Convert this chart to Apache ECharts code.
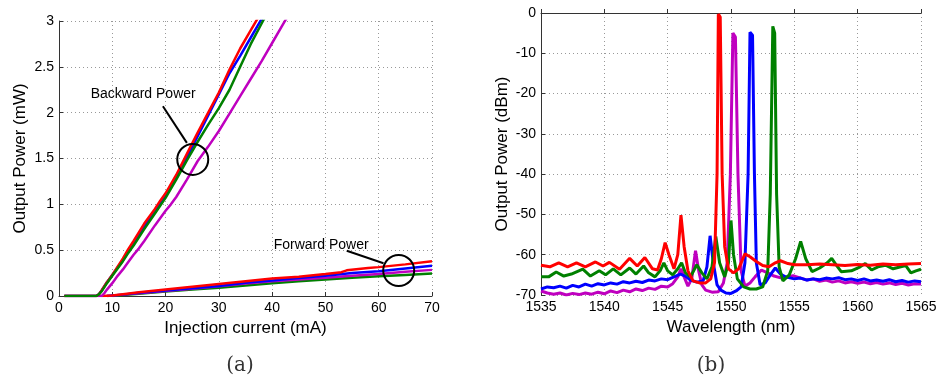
<!DOCTYPE html>
<html>
<head>
<meta charset="utf-8">
<title>Output power vs current and spectra</title>
<script src="https://cdn.jsdelivr.net/npm/echarts@6/dist/echarts.min.js"></script>
<style>
html, body { margin: 0; padding: 0; background: #fff; }
#chart { width: 940px; height: 381px; }
</style>
</head>
<body>
<div id="chart"></div>
<script>
// (a) backward power, [injection current mA, power mW]
var backRed = [[1,0],[7,0],[7.5,0.02],[8,0.06],[9,0.15],[10,0.23],[11,0.32],[12,0.41],[13,0.51],[14,0.6],[16,0.79],[18,0.95],[19,1.04],[20,1.12],[22,1.32],[24,1.55],[26,1.78],[28,2.0],[30,2.22],[32,2.47],[34,2.7],[36,2.9],[38,3.1]];
var backBlue = [[1,0],[7,0],[7.5,0.02],[8,0.06],[9,0.15],[10,0.23],[11,0.31],[12,0.39],[13,0.48],[14,0.57],[16,0.76],[18,0.93],[20,1.1],[22,1.3],[24,1.51],[26,1.74],[28,1.97],[30,2.2],[32,2.43],[34,2.62],[36,2.82],[38,3.02],[39,3.12]];
var backGreen = [[1,0],[7,0],[7.5,0.02],[8,0.05],[9,0.14],[10,0.22],[11,0.3],[12,0.38],[13,0.47],[14,0.55],[16,0.73],[18,0.9],[20,1.07],[22,1.27],[24,1.48],[26,1.68],[28,1.87],[30,2.05],[32,2.25],[34,2.5],[36,2.75],[38,2.97],[39,3.08]];
var backMagenta = [[1,0],[8,0],[8.5,0.03],[9,0.07],[10,0.14],[11,0.22],[12,0.29],[13,0.37],[14,0.45],[15,0.52],[16,0.6],[18,0.77],[20,0.93],[21,1.0],[22,1.08],[24,1.27],[26,1.47],[28,1.63],[30,1.8],[32,1.99],[34,2.18],[36,2.37],[38,2.56],[40,2.76],[42,2.96],[43,3.06]];

// (a) forward power
var fwdRed = [[8,0],[10,0.005],[12,0.02],[15,0.04],[20,0.07],[25,0.1],[30,0.13],[35,0.16],[40,0.19],[45,0.21],[50,0.24],[53,0.26],[54,0.28],[58,0.305],[60,0.315],[65,0.345],[70,0.38]];
var fwdBlue = [[9,0],[12,0.015],[15,0.035],[20,0.06],[25,0.085],[30,0.11],[35,0.145],[40,0.17],[45,0.195],[50,0.22],[55,0.25],[60,0.27],[65,0.3],[70,0.33]];
var fwdMagenta = [[9,0],[12,0.015],[15,0.03],[20,0.055],[25,0.08],[30,0.105],[35,0.135],[40,0.16],[45,0.18],[50,0.2],[55,0.22],[60,0.24],[65,0.265],[70,0.285]];
var fwdGreen = [[10,0],[12,0.01],[15,0.025],[20,0.05],[25,0.07],[30,0.09],[35,0.115],[40,0.14],[45,0.16],[50,0.18],[55,0.2],[60,0.215],[65,0.23],[70,0.245]];

// (b) spectra, [wavelength nm, power dBm]
var specRed = [[1535,-62.6],[1535.7,-63],[1536.4,-62],[1537.1,-63],[1537.8,-62],[1538.5,-63],[1539.3,-61.8],[1539.9,-62.8],[1540.4,-61.9],[1541.2,-63.6],[1542,-60.9],[1542.6,-62.8],[1543.2,-60.7],[1543.8,-63.5],[1544.2,-63.8],[1544.5,-61],[1544.8,-57],[1545.1,-60],[1545.5,-63.5],[1545.8,-60],[1546.05,-50.2],[1546.3,-58],[1546.6,-64],[1547,-66.5],[1547.5,-67],[1548,-67],[1548.4,-66],[1548.7,-62],[1548.9,-40],[1549.0,-0.3],[1549.15,-1],[1549.3,-40],[1549.5,-58],[1549.8,-63.5],[1550.2,-64.5],[1550.6,-63.5],[1551.1,-59.8],[1551.5,-60.5],[1552,-61.7],[1552.5,-62.7],[1553,-63],[1553.5,-62],[1553.9,-61.5],[1554.5,-62.2],[1555,-62.5],[1556,-62.5],[1557,-62.3],[1558,-62.5],[1559,-62.7],[1560,-62.4],[1561,-62.6],[1562,-62.3],[1563,-62.5],[1564,-62.3],[1565,-62.2]];
var specGreen = [[1535,-65.5],[1535.6,-65.5],[1536.2,-64.3],[1536.8,-65.3],[1537.4,-64.8],[1538.3,-63.6],[1538.9,-65.3],[1539.6,-64],[1540.1,-65],[1540.7,-63.5],[1541.3,-65],[1542,-63.3],[1542.5,-64.8],[1543.1,-62.8],[1543.5,-64.5],[1544,-65.5],[1544.4,-64],[1544.7,-62],[1545,-64],[1545.4,-65],[1545.8,-63.5],[1546.1,-62],[1546.4,-64.5],[1546.8,-65.5],[1547.3,-62.5],[1547.7,-64.5],[1548.1,-66],[1548.5,-63],[1548.8,-55.5],[1549.1,-62],[1549.5,-65.5],[1549.8,-62],[1550.0,-51.5],[1550.2,-60],[1550.5,-66],[1551,-68],[1551.5,-68.5],[1552,-68.5],[1552.5,-68],[1552.9,-64],[1553.1,-45],[1553.3,-3.3],[1553.45,-5],[1553.6,-45],[1553.8,-63],[1554.1,-66.5],[1554.6,-65],[1555.1,-61],[1555.5,-56.7],[1555.9,-61],[1556.4,-64.2],[1557,-63.3],[1557.6,-62],[1557.95,-60.9],[1558.3,-62.5],[1558.7,-64.2],[1559.5,-64],[1560.2,-63],[1560.6,-62.2],[1561.1,-63.8],[1561.6,-63],[1562.2,-62.6],[1562.8,-63.5],[1563.4,-63],[1563.8,-62.7],[1564.2,-64.5],[1564.6,-64],[1565,-63.6]];
var specBlue = [[1535,-68.5],[1535.5,-68],[1536,-68.2],[1536.5,-67.8],[1537,-68.3],[1537.5,-67.6],[1538,-68],[1538.5,-67.3],[1539,-67.8],[1539.5,-67.2],[1540,-67.5],[1540.5,-67],[1541,-67.3],[1541.5,-66.7],[1542,-67],[1542.5,-66.6],[1543,-66.9],[1543.5,-66.3],[1544,-66.5],[1544.5,-66],[1545,-66.2],[1545.5,-65.5],[1546,-64.8],[1546.4,-65.3],[1546.8,-66.3],[1547.3,-66.8],[1547.8,-66.5],[1548.1,-63],[1548.35,-55.3],[1548.6,-62],[1548.9,-67.5],[1549.2,-68.8],[1549.6,-69.5],[1550,-69.6],[1550.4,-69],[1550.8,-68],[1551.1,-62],[1551.35,-40],[1551.5,-4.8],[1551.7,-5.5],[1551.85,-40],[1552,-62],[1552.3,-67.5],[1552.7,-67],[1553.1,-65],[1553.5,-63.3],[1553.9,-64.8],[1554.3,-65.5],[1555,-66],[1555.5,-65.8],[1556,-66.3],[1556.5,-66],[1557,-66.2],[1557.5,-65.8],[1558,-66],[1558.5,-65.7],[1559,-66.2],[1559.5,-66],[1560,-66.4],[1560.5,-66],[1561,-66.5],[1561.5,-66.3],[1562,-66.6],[1562.5,-66.2],[1563,-66.7],[1563.5,-66.4],[1564,-66.8],[1564.5,-66.5],[1565,-66.7]];
var specMagenta = [[1535,-69],[1535.5,-69.5],[1536,-69.8],[1536.5,-69.5],[1537,-70],[1537.5,-69.6],[1538,-69.9],[1538.5,-69.5],[1539,-69.8],[1539.5,-69.3],[1540,-69.7],[1540.5,-69],[1541,-69.4],[1541.5,-68.8],[1542,-69.2],[1542.5,-68.5],[1543,-68.9],[1543.5,-68.3],[1544,-68.6],[1544.5,-67.8],[1545,-68],[1545.4,-67.2],[1545.8,-65.5],[1546.05,-63.5],[1546.3,-65.5],[1546.6,-67.8],[1546.9,-66],[1547.2,-59],[1547.45,-64],[1547.7,-67.5],[1548,-68.8],[1548.5,-69.3],[1549,-69.2],[1549.4,-67],[1549.7,-62],[1549.95,-40],[1550.15,-5],[1550.35,-6],[1550.55,-40],[1550.8,-64],[1551.1,-67.8],[1551.5,-67],[1551.9,-65.5],[1552.4,-63.8],[1552.9,-64.5],[1553.4,-65.3],[1554,-65.8],[1554.9,-65.2],[1555.5,-65.8],[1556,-66.3],[1556.5,-66],[1557,-66.6],[1557.5,-66.3],[1558,-66.8],[1558.5,-66.5],[1559,-67],[1559.5,-66.7],[1560,-67.1],[1560.5,-66.8],[1561,-67.2],[1561.5,-66.9],[1562,-67.3],[1562.5,-67],[1563,-67.4],[1563.5,-67.1],[1564,-67.5],[1564.5,-67.2],[1565,-67.3]];

// annotations on (a), in data coordinates
var annoTexts = [['Backward Power', 15.8, 2.2], ['Forward Power', 49.2, 0.556]];
var annoArrows = [[[19.5, 2.07], [24.0, 1.67]], [[54.0, 0.494], [60.9, 0.357]]];
var annoCircles = [[25.1, 1.49], [63.75, 0.278]];

var RED = '#ff0000', BLUE = '#0000ff', GREEN = '#008000', MAGENTA = '#bf00bf';
var FONT = '"Liberation Sans", Arial, sans-serif';

function axis(gi, min, max, iv, name, gap) {
    return {
        gridIndex: gi, type: 'value', min: min, max: max, interval: iv,
        name: name, nameLocation: 'middle', nameGap: gap,
        nameTextStyle: { color: '#000', fontSize: 17, fontFamily: FONT },
        axisLine: { lineStyle: { color: '#333', width: 1 } },
        axisTick: { inside: true, length: 4, lineStyle: { color: '#333' } },
        axisLabel: { color: '#000', fontSize: 14, fontFamily: FONT, margin: 5,
            formatter: function (v) { return String(v); } },
        splitLine: { show: true, lineStyle: { color: '#999', type: [1, 3], width: 1 } }
    };
}
function line(data, color, xi, w) {
    return {
        type: 'line', data: data, xAxisIndex: xi, yAxisIndex: xi,
        showSymbol: false, symbol: 'none', clip: true, silent: true,
        lineStyle: { color: color, width: w }, itemStyle: { color: color },
        z: 3
    };
}

var chart = echarts.init(document.getElementById('chart'));

var annoSeries = line([], '#000', 0, 2);
annoSeries.markLine = {
    silent: true, symbol: ['none', 'arrow'], symbolSize: [0, 11],
    lineStyle: { color: '#000', width: 2, type: 'solid' }, label: { show: false },
    data: annoArrows.map(function (a) { return [{ coord: a[0] }, { coord: a[1] }]; })
};
annoSeries.markPoint = {
    silent: true,
    data: annoCircles.map(function (c) {
        return { coord: c, symbol: 'circle', symbolSize: 31,
            itemStyle: { color: 'rgba(0,0,0,0)', borderColor: '#000', borderWidth: 2 },
            label: { show: false } };
    }).concat(annoTexts.map(function (t) {
        return { coord: [t[1], t[2]], symbol: 'circle', symbolSize: 0,
            itemStyle: { color: 'rgba(0,0,0,0)' },
            label: { show: true, position: 'inside', formatter: t[0], color: '#000', fontSize: 14, fontFamily: FONT } };
    }))
};

chart.setOption({
    animation: false,
    backgroundColor: '#fff',
    grid: [
        { left: 59, top: 21, width: 373, height: 275 },
        { left: 541, top: 13, width: 380, height: 282 }
    ],
    xAxis: [
        axis(0, 0, 70, 10, 'Injection current (mA)', 20),
        axis(1, 1535, 1565, 5, 'Wavelength (nm)', 20)
    ],
    yAxis: [
        axis(0, 0, 3, 0.5, 'Output Power (mW)', 30),
        axis(1, -70, 0, 10, 'Output Power (dBm)', 30)
    ],
    graphic: [
        { type: 'text', x: 240, y: 366, style: { text: '(a)', textAlign: 'center', textVerticalAlign: 'middle', font: '20px "DejaVu Serif", serif', fill: '#333' } },
        { type: 'text', x: 711, y: 366, style: { text: '(b)', textAlign: 'center', textVerticalAlign: 'middle', font: '20px "DejaVu Serif", serif', fill: '#333' } }
    ],
    series: [
        line(fwdGreen, GREEN, 0, 2.5),
        line(fwdMagenta, MAGENTA, 0, 2.5),
        line(fwdBlue, BLUE, 0, 2.5),
        line(fwdRed, RED, 0, 2.5),
        line(backMagenta, MAGENTA, 0, 2.5),
        line(backBlue, BLUE, 0, 2.5),
        line(backRed, RED, 0, 2.5),
        line(backGreen, GREEN, 0, 2.5),
        annoSeries,
        line(specMagenta, MAGENTA, 1, 3),
        line(specBlue, BLUE, 1, 3),
        line(specGreen, GREEN, 1, 3),
        line(specRed, RED, 1, 3)
    ]
});
</script>
</body>
</html>
